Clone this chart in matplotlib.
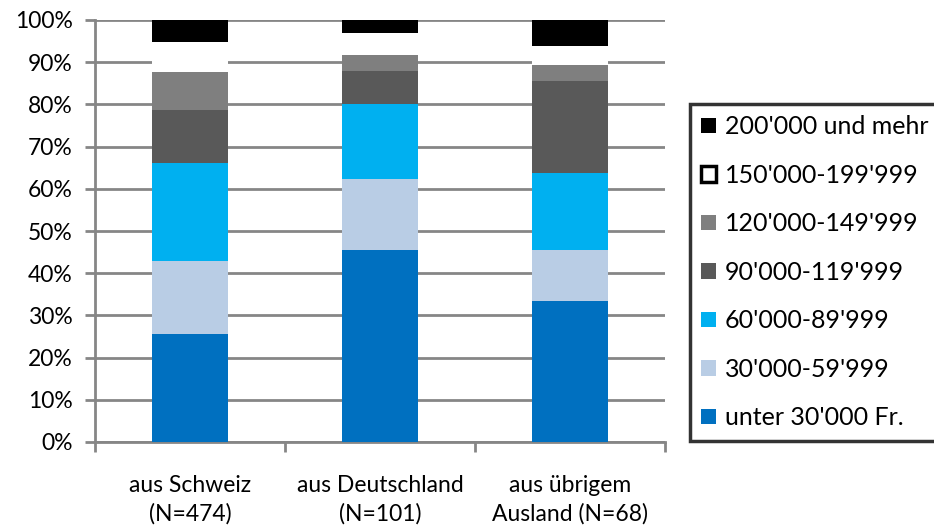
import matplotlib
matplotlib.use('Agg')
import matplotlib.pyplot as plt
from matplotlib.patches import Patch
import numpy as np

plt.rcParams['font.family'] = ['Lato', 'DejaVu Sans']

categories = ['aus Schweiz\n(N=474)', 'aus Deutschland\n(N=101)', 'aus übrigem\nAusland (N=68)']
labels = ['unter 30\'000 Fr.', '30\'000-59\'999', '60\'000-89\'999', '90\'000-119\'999',
          '120\'000-149\'999', '150\'000-199\'999', '200\'000 und mehr']
colors = ['#0070C0', '#B9CDE5', '#00B0F0', '#595959', '#7F7F7F', '#FFFFFF', '#000000']

# shares in percent, one list per income class (Schweiz, Deutschland, übriges Ausland)
unter30 = [25.5, 45.5, 33.3]
k30_59 = [17.5, 16.9, 12.2]
k60_89 = [23.0, 17.6, 18.3]
k90_119 = [12.7, 8.0, 21.7]
k120_149 = [8.9, 3.7, 3.9]
k150_199 = [7.1, 5.3, 4.4]
k200plus = [5.3, 3.0, 6.2]
series = [unter30, k30_59, k60_89, k90_119, k120_149, k150_199, k200plus]

fig = plt.figure(figsize=(9.34, 5.28), dpi=100)
ax = fig.add_axes([95/934, 1-442/528, 570/934, 422/528])

x = np.arange(len(categories))
bottom = np.zeros(len(categories))
for vals, col in zip(series, colors):
	ax.bar(x, vals, 0.4, bottom=bottom, color=col, zorder=3, linewidth=0)
	bottom += np.array(vals)

ax.set_xlim(-0.5, 2.5)
ax.set_ylim(0, 100)
ax.set_yticks(range(0, 101, 10))
ax.set_yticklabels(['%d%%' % v for v in range(0, 101, 10)], fontsize=16.5)
ax.yaxis.grid(True, color='#868686', linewidth=2, zorder=0)
ax.set_xticks([-0.5, 0.5, 1.5, 2.5])
ax.set_xticklabels([])
ax.set_xticks(x, minor=True)
ax.set_xticklabels(categories, minor=True, fontsize=16.5, linespacing=1.4)
ax.tick_params(axis='x', which='minor', length=0, pad=24)
ax.tick_params(axis='x', which='major', length=7, width=2, color='#868686', direction='out')
ax.tick_params(axis='y', length=7, width=2, color='#868686', direction='out', pad=9)
for s in ['top', 'right']:
	ax.spines[s].set_visible(False)
for s in ['left', 'bottom']:
	ax.spines[s].set_color('#868686')
	ax.spines[s].set_linewidth(2)

handles = []
for lab, col in zip(labels, colors):
	if col == '#FFFFFF':
		handles.append(Patch(facecolor='white', edgecolor='black', linewidth=2.5, label=lab))
	else:
		handles.append(Patch(facecolor=col, edgecolor='none', label=lab))
leg = fig.legend(handles[::-1], labels[::-1], loc='upper left',
				 bbox_to_anchor=(690/934, 1-104/528), fontsize=18,
				 handlelength=0.6, handleheight=0.6, handletextpad=0.35,
				 labelspacing=1.02, borderpad=0.45, borderaxespad=0,
				 fancybox=False, frameon=True)
leg.get_frame().set_edgecolor('black')
leg.get_frame().set_linewidth(2.5)

plt.savefig('out.png', dpi=100)
